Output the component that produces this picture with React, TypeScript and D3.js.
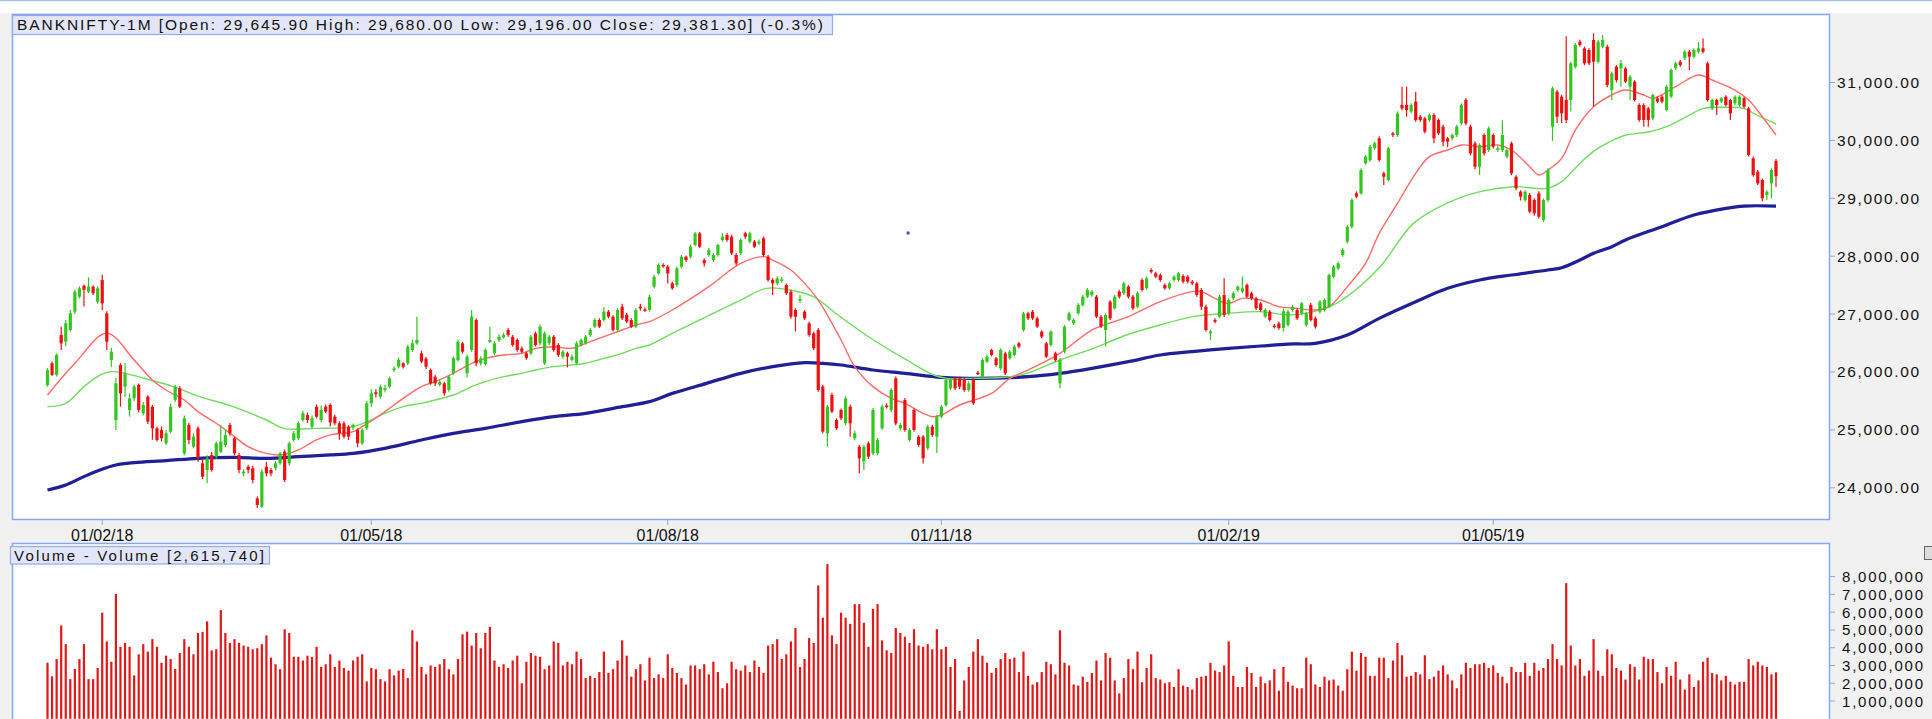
import React, { useEffect, useRef } from "react";
import * as d3 from "d3";

const W = 1932;
const H = 719;

// Daily candles [open, high, low, close] (index 0 = mid Jan 2018)
const ohlc: number[][] = [
[25775,26063,25747,26034],[26150,26180,25930,25950],[25950,26320,25920,26293],[26640,26783,26380,26495],[26525,26900,26450,26841],
[26725,27070,26700,27013],[27042,27420,27000,27388],[27300,27480,27270,27445],[27490,27510,27130,27420],[27388,27635,27360,27474],
[27474,27500,27330,27360],[27215,27480,27180,27445],[27590,27680,27070,27186],[27013,27050,26380,26523],[26207,26420,26090,26350],
[25171,25900,25000,25804],[26120,26150,25400,25632],[25747,26150,25570,25977],[25344,25630,25230,25545],[25545,25780,25500,25747],
[25776,25800,25300,25344],[25286,25480,25250,25430],[25574,25600,25100,25142],[25401,25430,24830,25027],[25027,25060,24800,24826],
[24999,25060,24800,24855],[24768,25000,24740,24941],[24970,25450,24940,25401],[25516,25780,25480,25747],[25718,25760,25380,25401],
[24595,25250,24560,25200],[25085,25120,24750,24826],[24710,24940,24680,24883],[25027,25060,24450,24510],[24423,24500,24150,24192],
[24308,24560,24080,24510],[24567,24620,24280,24308],[24538,24800,24500,24768],[24624,25085,24600,24797],[24739,25000,24700,24912],
[25085,25120,24900,24941],[24855,24880,24560,24595],[24567,24600,24250,24308],[24250,24320,24200,24280],[24365,24400,24250,24308],
[24336,24380,24080,24135],[23818,23850,23650,23703],[23674,24320,23650,24280],[24365,24450,24200,24250],[24308,24340,24200,24250],
[24337,24460,24300,24423],[24423,24620,24400,24595],[24624,24660,24100,24135],[24423,24800,24380,24768],[24826,24980,24800,24941],
[24855,25150,24820,25114],[25171,25330,25140,25286],[25257,25300,25120,25171],[25056,25250,25020,25200],[25401,25440,25200,25228],
[25171,25420,25130,25344],[25401,25440,25290,25315],[25430,25460,25060,25130],[25230,25260,25080,25114],[25114,25150,24830,24941],
[25114,25150,24850,24884],[25056,25080,24826,24884],[25040,25110,25000,25085],[25000,25030,24700,24768],[24768,25030,24740,24999],
[25028,25500,25000,25459],[25459,25700,25400,25631],[25650,25700,25560,25620],[25574,25780,25540,25747],[25690,25780,25650,25720],
[25747,25920,25720,25890],[26034,26100,26000,26060],[26092,26250,26060,26207],[26150,26170,26060,26092],[26150,26470,26120,26437],
[26380,26560,26350,26495],[26495,26956,26470,26553],[26322,26370,26150,26180],[26230,26260,26050,26092],[26034,26060,25780,25804],
[25919,25950,25760,25804],[25780,25870,25750,25830],[25804,25830,25590,25631],[25689,25950,25660,25919],[25977,26270,25950,26240],
[26207,26560,26180,26524],[26495,26520,26320,26350],[25977,26300,25900,26265],[26380,27071,26350,26956],[26898,26930,26100,26150],
[26150,26270,26110,26235],[26137,26410,26110,26380],[26520,26783,26500,26553],[26322,26530,26290,26495],[26553,26650,26520,26610],
[26600,26680,26580,26640],[26725,26760,26610,26640],[26610,26640,26440,26466],[26553,26580,26350,26380],[26408,26440,26320,26350],
[26322,26350,26210,26240],[26322,26640,26290,26610],[26668,26700,26440,26466],[26495,26820,26460,26783],[26150,26700,26120,26668],
[26495,26640,26460,26610],[26610,26640,26350,26380],[26466,26500,26260,26293],[26265,26380,26230,26350],[26322,26350,26080,26265],
[26207,26300,26180,26265],[26150,26530,26120,26495],[26466,26580,26440,26553],[26495,26640,26470,26610],[26640,26760,26610,26725],
[26783,26930,26760,26898],[26898,26930,26760,26783],[26898,27120,26870,27042],[27042,27070,26930,26956],[26956,26980,26700,26725],
[26725,27100,26700,27071],[27128,27180,26900,26927],[26990,27020,26840,26870],[26898,26930,26760,26783],[26783,27100,26760,27071],
[27128,27180,27060,27100],[27080,27120,27040,27071],[27071,27330,27040,27300],[27474,27680,27440,27646],[27704,27880,27680,27848],
[27848,27880,27800,27830],[27819,27850,27530,27704],[27531,27560,27420,27445],[27503,27820,27470,27790],[27819,28020,27790,27992],
[27992,28010,27900,27934],[27992,28200,27960,28165],[28193,28420,28170,28395],[28395,28420,28140,28165],[27934,27960,27820,27877],
[28021,28140,27990,28107],[27934,28050,27900,28021],[28021,28220,27990,28193],[28280,28400,28250,28337],[28366,28400,28250,28280],
[28337,28370,28020,28050],[28021,28050,27840,27877],[28050,28310,28020,28280],[28395,28424,28300,28337],[28251,28424,28220,28395],
[28251,28280,28140,28165],[28222,28290,28190,28251],[28309,28340,27990,28021],[27992,28020,27560,27589],[27589,27620,27330,27531],
[27531,27650,27500,27618],[27580,27640,27540,27600],[27503,27530,27330,27359],[27388,27420,26920,26956],[27071,27100,26700,26956],
[27230,27330,27190,27260],[27042,27070,26900,26927],[26841,26870,26610,26639],[26668,26700,26380,26409],[26725,26760,25660,25689],
[25747,25780,24940,24970],[24941,25430,24710,25401],[25603,25640,25290,25315],[25171,25200,25000,25027],[25344,25370,25170,25200],
[25114,25580,25080,25545],[25401,25440,24880,25114],[24855,24980,24820,24941],[24710,24740,24250,24509],[24451,24740,24308,24710],
[24768,24800,24500,24538],[24595,25380,24560,25344],[24595,24860,24560,24826],[25027,25440,25000,25401],[25420,25460,25370,25401],
[25344,25720,25310,25689],[25890,25920,25080,25114],[25027,25120,24990,25085],[25516,25550,24970,24999],[24826,25030,24800,24999],
[25344,25370,24970,24999],[24884,24910,24710,24740],[24884,24910,24420,24509],[24682,25090,24650,25056],[25056,25090,24880,24913],
[24884,25260,24600,25228],[25228,25430,25200,25401],[25431,25890,25400,25862],[25718,25900,25690,25862],[25890,25920,25690,25718],
[25890,25920,25700,25747],[25862,25900,25660,25689],[25689,25840,25660,25804],[25862,25900,25430,25459],[25990,26020,25950,25977],
[25919,26240,25890,26207],[26178,26300,26150,26265],[26380,26400,26270,26294],[26236,26260,26090,26121],[26063,26410,26030,26380],
[26322,26350,25950,25977],[26236,26380,26210,26352],[26294,26470,26270,26437],[26495,26520,26410,26437],[26725,27040,26700,27013],
[27013,27040,26900,26927],[27042,27070,26900,26927],[26927,26960,26760,26783],[26697,26720,26580,26610],[26495,26520,26240,26265],
[26466,26720,26440,26697],[26322,26350,26180,26207],[25804,26240,25718,26207],[26352,26810,26320,26783],[26898,27040,26870,27013],
[26841,26930,26810,26898],[27013,27190,26990,27157],[27157,27330,27130,27301],[27301,27450,27280,27416],[27330,27420,27300,27388],
[27301,27330,26930,26956],[26956,26980,26760,26783],[26725,27010,26437,26984],[27215,27240,26900,26927],[27100,27330,27080,27301],
[27388,27420,27270,27301],[27359,27560,27330,27531],[27474,27500,27270,27301],[27301,27330,27070,27100],[27128,27390,27100,27359],
[27589,27620,27390,27416],[27445,27650,27420,27618],[27761,27790,27700,27733],[27704,27730,27620,27646],[27675,27700,27560,27589],
[27503,27530,27420,27445],[27445,27560,27420,27531],[27589,27670,27560,27646],[27589,27730,27560,27704],[27658,27690,27530,27560],
[27646,27670,27530,27560],[27560,27590,27500,27531],[27531,27560,27300,27330],[27416,27450,27071,27128],[27128,27160,26700,26725],
[26668,26730,26553,26700],[26898,26930,26840,26869],[26956,27330,26930,27301],[27330,27618,26950,26984],[27013,27270,26980,27243],
[27272,27390,27240,27359],[27416,27500,27390,27474],[27388,27650,27360,27445],[27503,27530,27270,27301],[27359,27390,27240,27272],
[27272,27300,27070,27100],[27185,27210,27040,27071],[26956,27100,26930,27071],[27042,27070,26870,26898],[26800,26830,26750,26783],
[26840,26870,26730,26760],[26760,27100,26700,27050],[26811,27070,26780,27042],[27071,27160,27040,27128],[27071,27100,26900,26927],
[27013,27210,26980,27186],[26811,27040,26780,27013],[27157,27190,26870,26898],[26927,26960,26750,26783],[27042,27240,27010,27214],
[27071,27270,27040,27243],[27128,27700,27100,27675],[27646,27850,27620,27819],[27790,27910,27760,27876],[28020,28140,27990,28107],
[28251,28540,28220,28510],[28510,29000,28480,28970],[29085,29120,29000,29028],[29085,29520,29060,29488],[29603,29750,29580,29719],
[29661,29920,29630,29891],[29863,29980,29840,29949],[30035,30070,29630,29661],[29431,29460,29229,29373],[29316,29890,29290,29863],
[30121,30150,30060,30093],[30093,30500,30060,30467],[30611,30928,30520,30553],[30611,30928,30409,30525],[30496,30640,30470,30611],
[30669,30840,30320,30352],[30409,30440,30320,30352],[30381,30410,30120,30150],[30352,30470,30320,30438],[30438,30470,29950,30035],
[30352,30380,30090,30121],[30237,30270,29900,29978],[30035,30060,29880,29978],[30035,30120,30000,30093],[30093,30270,30060,30237],
[30294,30640,30260,30611],[30697,30730,30260,30294],[30237,30270,29740,29776],[29949,29980,29500,29546],[29546,29950,29400,29920],
[30093,30120,29740,29776],[29834,30240,29800,30208],[30093,30120,29860,29891],[29834,29900,29800,29863],[29834,30350,29800,30093],
[29719,29860,29690,29834],[29949,29980,29400,29431],[29373,29400,29140,29172],[29114,29140,28960,29028],[28970,29140,28940,29114],
[29057,29090,28740,28769],[28970,29000,28700,28740],[29085,29120,28650,28682],[28625,29000,28590,28970],[28970,29520,28940,29488],
[30237,30930,29990,30899],[30841,30870,30300,30409],[30755,30790,30300,30467],[30700,31800,30300,30352],[30697,31360,30500,31331],
[31273,31680,31240,31647],[31705,31740,31620,31647],[31590,31620,31300,31331],[31561,31590,31300,31331],[31734,31850,30582,31359],
[31359,31740,31330,31705],[31618,31820,31590,31734],[31618,31650,30920,30956],[30870,31190,30697,31158],[31273,31300,31000,31043],
[31244,31390,30928,31331],[31244,31270,30990,31014],[30928,31130,30697,31100],[31014,31040,30670,30697],[30611,30640,30320,30352],
[30611,30640,30237,30352],[30553,30580,30237,30352],[30381,30810,30350,30784],[30726,30760,30640,30669],[30755,30780,30640,30669],
[30525,30960,30500,30928],[30755,31240,30730,31215],[31244,31360,31220,31331],[31359,31390,31270,31302],[31417,31560,31390,31532],
[31532,31560,31215,31446],[31446,31590,31420,31561],[31532,31700,31500,31590],[31590,31760,31500,31532],[31331,31360,30670,30697],
[30553,30720,30520,30697],[30697,30720,30438,30611],[30669,30750,30640,30726],[30755,30780,30580,30611],[30697,30720,30352,30467],
[30640,30780,30610,30755],[30611,30780,30580,30755],[30726,30750,30550,30582],[30553,30580,29720,29748],[29690,29720,29370,29402],
[29459,29490,29230,29258],[29316,29340,28950,28999],[29057,29140,28970,29114],[29258,29520,29000,29488],[29645.9,29680,29196,29381.3]
];

// Daily volume, millions
const volumes: number[] = [
3.15,2.39,3.36,5.25,4.20,2.23,2.81,3.36,4.20,2.23,
2.23,2.86,5.97,4.35,3.21,7.02,4.05,4.27,4.05,2.44,
3.63,4.20,3.78,4.48,4.05,3.15,3.55,3.36,2.81,3.70,
4.48,4.05,3.63,4.83,4.89,5.48,3.85,3.91,6.11,4.83,
4.26,4.48,4.27,4.12,4.05,3.91,3.97,4.20,4.69,3.44,
3.07,2.79,5.04,4.83,3.49,3.49,3.28,3.55,3.47,4.05,
2.92,3.07,3.63,2.92,3.28,2.86,2.71,3.28,3.49,3.63,
2.10,2.86,2.79,2.23,2.10,2.79,2.44,2.71,2.81,2.29,
4.98,4.35,2.92,2.50,3.00,2.92,3.07,3.36,2.79,2.50,
3.36,4.75,4.90,4.12,4.83,3.97,4.83,5.17,3.28,2.92,
3.07,2.86,3.28,3.55,2.00,3.21,3.70,3.55,3.49,2.79,
3.00,4.35,4.27,3.00,3.21,3.07,3.78,3.36,2.29,2.42,
2.29,2.63,3.78,2.58,2.79,3.28,4.41,3.55,2.37,2.79,
3.07,2.16,3.44,2.29,2.50,2.29,3.63,2.86,2.58,2.29,
1.93,3.00,3.00,2.79,3.07,2.50,3.21,2.63,1.72,2.00,
3.21,2.79,2.71,3.00,2.63,3.28,2.92,2.58,4.12,4.20,
4.48,3.36,3.63,4.35,5.11,2.92,3.36,4.54,4.26,7.50,
5.69,8.70,4.69,4.20,5.97,5.69,5.34,6.45,6.45,5.40,
4.05,6.18,6.45,4.41,3.85,3.70,5.11,4.83,4.62,4.27,
5.04,4.12,4.05,4.20,3.91,5.04,3.91,4.05,2.92,3.36,
0.44,2.16,2.92,3.78,4.48,3.55,3.15,2.58,2.86,3.36,
3.70,3.36,3.44,2.63,3.78,2.42,1.93,2.06,2.63,3.21,
3.07,2.50,4.98,3.15,3.00,1.93,1.87,2.37,2.08,2.58,
3.28,2.16,3.70,3.44,2.16,1.43,2.29,3.36,2.79,3.78,
2.06,2.86,3.63,2.29,2.21,2.00,2.06,1.79,2.79,1.87,
1.79,1.64,2.29,2.37,2.42,3.15,2.71,2.63,3.00,4.35,
2.42,1.79,1.79,2.92,2.58,1.79,2.37,2.00,2.16,2.79,
1.58,2.92,2.08,1.87,1.72,1.72,3.44,3.07,1.93,1.79,
2.37,2.16,2.21,1.87,1.58,2.79,3.78,2.71,3.70,3.49,
2.42,2.42,3.44,3.44,2.29,3.28,4.26,3.57,2.37,2.42,
2.63,2.50,3.57,2.23,2.37,2.71,3.00,2.50,2.16,1.72,
2.50,3.15,2.86,3.07,3.07,3.15,2.86,3.00,2.58,2.37,
2.00,2.92,2.63,2.63,3.15,2.42,3.15,2.71,2.86,3.36,
4.20,3.36,3.00,7.63,4.12,3.00,3.36,2.42,2.71,4.48,
2.71,2.42,3.91,3.63,2.86,2.71,2.21,3.07,2.92,2.21,
3.49,3.36,3.36,2.63,2.00,2.92,2.42,3.21,2.21,1.64,
2.50,1.79,2.16,3.21,3.44,2.58,2.50,2.16,2.42,2.08,
1.93,2.08,2.08,3.36,3.00,3.21,3.00,2.92,2.50,2.615740
];

// Moving averages: [candle index, value]
const maFast: number[][] = [[0,25603],[6,26150],[13,26668],[19,26207],[23,25862],[26,25689],[30,25516],[33,25315],[37,25114],[41,24884],[44,24710],[48,24595],[51,24567],[53,24595],[55,24653],[59,24826],[62,24913],[67,24970],[69,25056],[74,25315],[78,25545],[82,25747],[85,25833],[89,25977],[93,26150],[96,26236],[100,26294],[104,26322],[107,26409],[111,26437],[115,26409],[118,26495],[122,26610],[126,26725],[129,26812],[132,26869],[137,27071],[145,27474],[152,27877],[157,27992],[159,27934],[163,27761],[166,27531],[169,27243],[174,26553],[177,26092],[181,25747],[185,25545],[188,25459],[192,25286],[194,25228],[196,25257],[200,25430],[207,25631],[211,25890],[215,26034],[222,26322],[229,26725],[237,26956],[244,27215],[251,27388],[253,27388],[256,27272],[259,27186],[262,27272],[266,27243],[270,27128],[274,27099],[278,27071],[281,27128],[285,27473],[289,27876],[292,28395],[296,28913],[300,29431],[303,29719],[307,29834],[310,29920],[314,29891],[318,29920],[321,29834],[325,29546],[327,29402],[329,29488],[332,29690],[335,30179],[339,30582],[343,30784],[346,30870],[350,30784],[352,30726],[357,30928],[362,31129],[365,31043],[370,30870],[373,30697],[376,30409],[379,30093]];
const maMid: number[][] = [[0,25401],[4,25459],[8,25747],[11.5,25948],[14,26006],[17,25977],[22.5,25862],[27.6,25747],[33.4,25574],[40.7,25401],[48,25171],[51.7,25027],[59,25027],[67,25056],[71,25171],[74,25286],[78,25401],[82,25459],[85,25516],[89,25603],[93,25747],[96,25833],[100,25919],[104,25977],[107,26034],[111,26092],[115,26121],[118,26150],[122,26236],[126,26322],[129,26409],[132,26466],[137,26668],[144.5,26956],[152,27243],[157.6,27445],[162.8,27416],[167.9,27301],[173.8,26956],[181.1,26553],[188.4,26207],[194.3,25948],[197.2,25890],[202.3,25890],[211,25919],[214.7,25977],[222,26207],[229.3,26409],[236.6,26639],[243.9,26812],[251.2,26956],[258.6,27013],[265.9,27042],[272.4,26984],[277.6,27042],[281.2,27128],[284.9,27301],[292.2,27819],[299.5,28567],[306.8,28913],[314.1,29114],[321.4,29200],[328.8,29172],[332,29287],[335.3,29546],[338.9,29805],[342.6,29978],[346.2,30093],[351.3,30150],[355,30237],[359.4,30409],[363.1,30553],[368.2,30571],[371.8,30553],[375.5,30409],[379,30283]];
const maSlow: number[][] = [[0,23962],[4,24049],[8,24193],[11.5,24308],[15,24394],[19,24434],[26,24469],[33,24509],[41,24526],[48,24509],[55,24538],[62,24567],[67,24595],[74,24682],[82,24826],[89,24941],[96,25027],[104,25142],[111,25228],[118,25286],[126,25401],[132,25488],[137,25631],[144.5,25804],[152,25977],[159,26092],[166,26161],[170,26150],[174,26121],[181,26034],[188,25977],[196,25908],[202,25890],[215,25919],[222,25977],[229,26063],[237,26178],[244,26294],[251,26352],[259,26409],[266,26449],[272,26483],[278,26495],[285,26638],[292,26927],[300,27214],[307,27445],[314,27589],[321,27675],[329,27761],[332,27800],[336,27934],[339,28050],[343,28164],[346,28280],[354,28510],[361,28711],[368,28826],[372,28866],[379,28866]];

const dateTickIdx: number[] = [12, 71, 136, 196, 259, 317];
const dateTickLabels: string[] = ["01/02/18", "01/05/18", "01/08/18", "01/11/18", "01/02/19", "01/05/19"];
const priceTicks: number[] = [24000, 25000, 26000, 27000, 28000, 29000, 30000, 31000];
const volumeTicks: number[] = [1, 2, 3, 4, 5, 6, 7, 8];
const strayMarks: number[][] = [[188.7, 28400]];

const titleText = "BANKNIFTY-1M [Open: 29,645.90  High: 29,680.00  Low: 29,196.00  Close: 29,381.30] (-0.3%)";
const volTitleText = "Volume - Volume [2,615,740]";

const FONT = "'Liberation Sans', Arial, sans-serif";

export default function App() {
  const ref = useRef<SVGSVGElement>(null);

  useEffect(() => {
    const svg = d3.select(ref.current);
    svg.selectAll("*").remove();

    const left = 12, right = 1829;
    const pTop = 14, pBot = 519;
    const vTop = 543, vBot = 718.5;

    const x = d3.scaleLinear().domain([0, 379]).range([47.5, 1776]);
    const y = d3.scaleLinear().domain([23461, 32183]).range([pBot, pTop]);
    const yv = d3.scaleLinear().domain([0, 8]).range([718.8, 576.6]);

    svg.append("rect").attr("width", W).attr("height", H).attr("fill", "#f1f1f1");
    svg.append("rect").attr("width", W).attr("height", 13).attr("fill", "#ffffff");
    svg.append("line").attr("x1", 0).attr("x2", W).attr("y1", 0.5).attr("y2", 0.5).attr("stroke", "#a9c0ee").attr("stroke-width", 1.5);

    // price panel
    svg.append("rect").attr("x", left + 0.5).attr("y", pTop + 0.5).attr("width", right - left).attr("height", pBot - pTop)
      .attr("fill", "#ffffff").attr("stroke", "#86a8ee").attr("stroke-width", 1.5);

    const clipP = svg.append("clipPath").attr("id", "clipP");
    clipP.append("rect").attr("x", left + 1).attr("y", pTop + 1).attr("width", right - left - 1).attr("height", pBot - pTop - 1);

    const gP = svg.append("g").attr("clip-path", "url(#clipP)");

    const line = d3.line<number[]>().x(d => x(d[0])).y(d => y(d[1])).curve(d3.curveCatmullRom.alpha(0.5));
    gP.append("path").attr("d", line(maSlow)!).attr("fill", "none").attr("stroke", "#1f1f96").attr("stroke-width", 3.2).attr("stroke-linejoin", "round");
    gP.append("path").attr("d", line(maMid)!).attr("fill", "none").attr("stroke", "#6fdc5e").attr("stroke-width", 1.4);
    gP.append("path").attr("d", line(maFast)!).attr("fill", "none").attr("stroke", "#ff6a6a").attr("stroke-width", 1.4);

    const up = "#33c520", down = "#ee1010";
    const cg = gP.append("g");
    ohlc.forEach((c, i) => {
      const [o, h, l, cl] = c;
      const col = cl >= o ? up : down;
      const cx = x(i);
      cg.append("line").attr("x1", cx).attr("x2", cx).attr("y1", y(h)).attr("y2", y(l)).attr("stroke", col).attr("stroke-width", 1.2);
      const top = y(Math.max(o, cl)), bot = y(Math.min(o, cl));
      cg.append("rect").attr("x", cx - 1.6).attr("y", top).attr("width", 3.2).attr("height", Math.max(1.5, bot - top)).attr("fill", col);
    });

    strayMarks.forEach(m => {
      gP.append("rect").attr("x", x(m[0]) - 1.5).attr("y", y(m[1]) - 1.5).attr("width", 3).attr("height", 3).attr("fill", "#4a4ae0");
    });

    // title box
    svg.append("rect").attr("x", 12.5).attr("y", 15.5).attr("width", 820).attr("height", 19)
      .attr("fill", "#e3e6f8").attr("stroke", "#8eaaf0").attr("stroke-width", 1.2);
    svg.append("text").attr("x", 17).attr("y", 30).attr("font-family", FONT).attr("font-size", 15.5)
      .attr("fill", "#111").attr("textLength", 806).attr("lengthAdjust", "spacing").text(titleText);

    // price axis
    priceTicks.forEach(p => {
      const yy = y(p);
      svg.append("line").attr("x1", right + 0.5).attr("x2", right + 6).attr("y1", yy).attr("y2", yy).attr("stroke", "#86a8ee");
      svg.append("text").attr("x", 1837).attr("y", yy + 5.5).attr("font-family", FONT).attr("font-size", 15.5)
        .attr("fill", "#111").attr("textLength", 82).attr("lengthAdjust", "spacing").text(d3.format(",.2f")(p));
    });

    // date axis
    dateTickIdx.forEach((di, k) => {
      const xx = x(di);
      svg.append("line").attr("x1", xx).attr("x2", xx).attr("y1", pBot + 1).attr("y2", pBot + 6).attr("stroke", "#86a8ee");
      svg.append("text").attr("x", xx).attr("y", 541).attr("text-anchor", "middle").attr("font-family", FONT)
        .attr("font-size", 16).attr("fill", "#111").text(dateTickLabels[k]);
    });

    // volume panel
    svg.append("rect").attr("x", left + 0.5).attr("y", vTop + 0.5).attr("width", right - left).attr("height", vBot - vTop + 2)
      .attr("fill", "#ffffff").attr("stroke", "#86a8ee").attr("stroke-width", 1.5);
    const vg = svg.append("g");
    volumes.forEach((v, i) => {
      const cx = x(i);
      vg.append("rect").attr("x", cx - 1.1).attr("y", yv(v)).attr("width", 2.2).attr("height", yv(0) - yv(v)).attr("fill", "#e01818");
    });

    svg.append("rect").attr("x", 10.5).attr("y", 546.5).attr("width", 259).attr("height", 17.5)
      .attr("fill", "#e3e6f8").attr("stroke", "#8eaaf0").attr("stroke-width", 1.2);
    svg.append("text").attr("x", 14).attr("y", 560.5).attr("font-family", FONT).attr("font-size", 15)
      .attr("fill", "#111").attr("textLength", 250).attr("lengthAdjust", "spacing").text(volTitleText);

    volumeTicks.forEach(v => {
      const yy = yv(v);
      svg.append("line").attr("x1", right + 0.5).attr("x2", right + 6).attr("y1", yy).attr("y2", yy).attr("stroke", "#86a8ee");
      svg.append("text").attr("x", 1842).attr("y", yy + 5.5).attr("font-family", FONT).attr("font-size", 15)
        .attr("fill", "#111").attr("textLength", 81).attr("lengthAdjust", "spacing").text(d3.format(",")(v * 1000000));
    });

    // small panel button
    svg.append("rect").attr("x", 1924.5).attr("y", 546.5).attr("width", 10).attr("height", 13)
      .attr("fill", "#dcdcdc").attr("stroke", "#666").attr("stroke-width", 1);
  }, []);

  return (
    <svg ref={ref} width={W} height={H} style={{ position: "fixed", left: 0, top: 0, display: "block" }} />
  );
}
